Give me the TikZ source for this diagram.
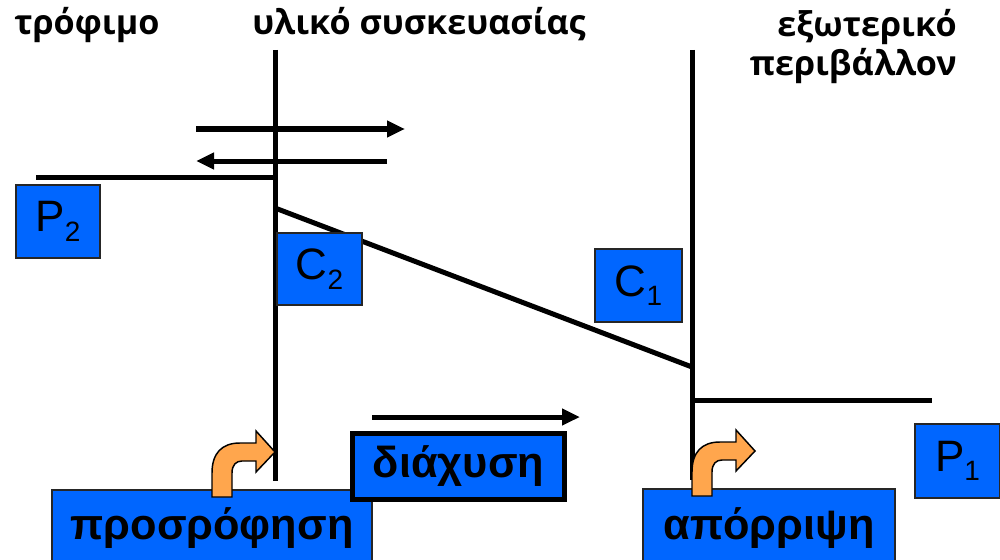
\documentclass[tikz,border=0pt]{standalone}
\usepackage{fontspec}
\setmainfont{Liberation Sans}
\newfontfamily\titlefont{Open Sans}
\usetikzlibrary{arrows.meta}
\definecolor{boxblue}{HTML}{0066FF}
\definecolor{orangefill}{HTML}{FFA64D}
\newcommand\lowidx[1]{\raisebox{-7pt}{\fontsize{21}{21}\selectfont #1}}
\begin{document}
\begin{tikzpicture}[x=0.75pt,y=-0.75pt,
  thickline/.style={line width=3.75pt},
  arr/.style={thickline,-{Triangle[length=13.5pt,width=12pt]}},
  bluebox/.style={draw=black!85,line width=0.9pt,fill=boxblue,inner sep=0pt},
  titletext/.style={font=\titlefont\bfseries\fontsize{25.6}{28}\selectfont,inner sep=0pt},
  labeltext/.style={font=\bfseries\fontsize{32.5}{34}\selectfont},
  symtext/.style={font=\fontsize{33}{33}\selectfont},
  bentarrow/.pic={
    \filldraw[fill=orangefill,draw=black,line width=1.1pt,line join=miter]
      (0,0) -- (0,-24) .. controls (0,-44) and (10,-54) .. (28,-54)
      -- (44,-54) -- (44,-66) -- (63,-45) -- (44,-25) -- (44,-36)
      -- (30,-36) .. controls (24,-36) and (20,-32) .. (20,-24)
      -- (20,0) -- cycle;
  }]
\useasboundingbox (0,0) rectangle (1000,560);
\clip (0,0) rectangle (1000,560);
\fill[white] (0,0) rectangle (1000,560);

% titles
\node[titletext,anchor=base west] (tfood) at (14,35) {τρόφιμο};
\node[titletext,anchor=base west] (tpack) at (252,35) {υλικό συσκευασίας};
\node[titletext,anchor=base east] (tenvA) at (957,37) {εξωτερικό};
\node[titletext,anchor=base east] (tenvB) at (957,76) {περιβάλλον};

% coordinates
\coordinate (v1t) at (275,50);
\coordinate (v1b) at (275,481);
\coordinate (v2t) at (692,50);
\coordinate (v2b) at (692,480);
\coordinate (hp2a) at (36,177);
\coordinate (hp2b) at (275,177);
\coordinate (sl1) at (275,208);
\coordinate (sl2) at (692,367);
\coordinate (hp1a) at (692,400);
\coordinate (hp1b) at (932,400);
\coordinate (ar1a) at (196,129);
\coordinate (ar1b) at (405,129);
\coordinate (ar2a) at (387,161);
\coordinate (ar2b) at (196,161);
\coordinate (ar3a) at (372,417);
\coordinate (ar3b) at (580,417);

% lines
\draw[thickline] (v1t) -- (v1b);
\draw[thickline] (v2t) -- (v2b);
\draw[thickline] (hp2a) -- (hp2b);
\draw[thickline] (sl1) -- (sl2);
\draw[thickline] (hp1a) -- (hp1b);
\draw[arr] (ar1a) -- (ar1b);
\draw[arr] (ar2a) -- (ar2b);
\draw[arr] (ar3a) -- (ar3b);

% small boxes
\node[bluebox,symtext,minimum width=63pt,minimum height=54.75pt] (p2) at (58,221.5) {P\lowidx{2}};
\node[bluebox,symtext,minimum width=63.75pt,minimum height=54pt] (c2) at (319.5,269) {C\lowidx{2}};
\node[bluebox,symtext,minimum width=65.25pt,minimum height=54.75pt] (c1) at (638.5,285.5) {C\lowidx{1}};
\node[bluebox,symtext,minimum width=63.75pt,minimum height=55.5pt] (p1) at (957.5,461) {P\lowidx{1}};

% label boxes
\node[bluebox,labeltext,minimum width=240pt,minimum height=57pt] (ads) at (212,528) {προσρόφηση};
\node[bluebox,labeltext,minimum width=189pt,minimum height=58.5pt] (rej) at (769,528) {απόρριψη};
\node[bluebox,labeltext,draw=black,line width=3.75pt,minimum width=159pt,minimum height=49.5pt] (dif) at (458.5,466.5) {διάχυση};

% orange bent arrows
\pic (oa1) at (212,497) {bentarrow};
\pic (oa2) at (692,496) {bentarrow};
\end{tikzpicture}
\end{document}
